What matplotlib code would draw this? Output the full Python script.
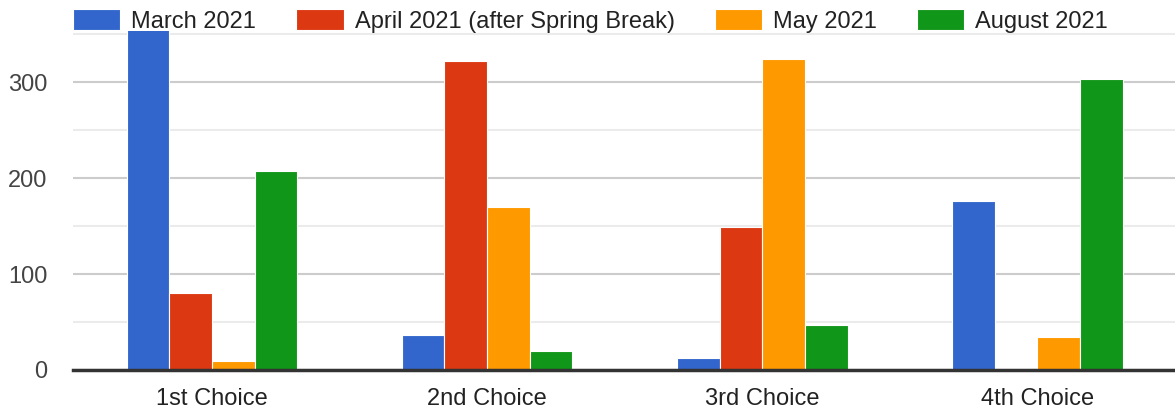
import matplotlib
matplotlib.use("Agg")
import matplotlib.pyplot as plt
import numpy as np

categories = ["1st Choice", "2nd Choice", "3rd Choice", "4th Choice"]
series_names = ["March 2021", "April 2021 (after Spring Break)", "May 2021", "August 2021"]
march = [360, 36, 12, 176]
april = [80, 322, 149, 0]
may = [9, 170, 324, 34]
august = [207, 20, 47, 303]
colors = ["#3366cc", "#dc3912", "#ff9900", "#109618"]

plt.rcParams['font.family'] = ['Liberation Sans', 'DejaVu Sans']

W, H = 1175, 408
fig = plt.figure(figsize=(W/100, H/100), dpi=100)
ax = fig.add_axes([73/W, (H-370)/H, (W-73)/W, (370-31)/H])

x = np.arange(len(categories))
bw = 0.155
data = [march, april, may, august]
for i, (vals, name, c) in enumerate(zip(data, series_names, colors)):
    ax.bar(x + (i-1.5)*bw, vals, width=bw, color=c, label=name,
           edgecolor="white", linewidth=0.8, zorder=3)

ax.set_xlim(-0.505, 3.5)
ax.set_ylim(0, 353.5)
ax.set_yticks([0, 100, 200, 300])
ax.set_yticks([50, 150, 250, 350], minor=True)
ax.grid(axis='y', which='major', color='#cccccc', linewidth=1.5, zorder=0)
ax.grid(axis='y', which='minor', color='#ebebeb', linewidth=1.5, zorder=0)
ax.set_xticks(x)
ax.set_xticklabels(categories, fontsize=17, color='#222222')
ax.tick_params(axis='both', which='both', length=0)
ax.tick_params(axis='y', labelsize=17, labelcolor='#444444', pad=18.5)
ax.tick_params(axis='x', pad=13)
for s in ['top', 'right', 'left']:
    ax.spines[s].set_visible(False)
ax.spines['bottom'].set_color('#333333')
ax.spines['bottom'].set_linewidth(2.5)
ax.spines['bottom'].set_zorder(4)

fig.legend(loc='center left', bbox_to_anchor=(73/W, 1-21/H), ncol=4,
           frameon=False, fontsize=17, handlelength=2.0, handleheight=0.95,
           handletextpad=0.47, columnspacing=1.7, borderpad=0, borderaxespad=0,
           labelcolor='#222222')

fig.savefig("out.png", dpi=100)
